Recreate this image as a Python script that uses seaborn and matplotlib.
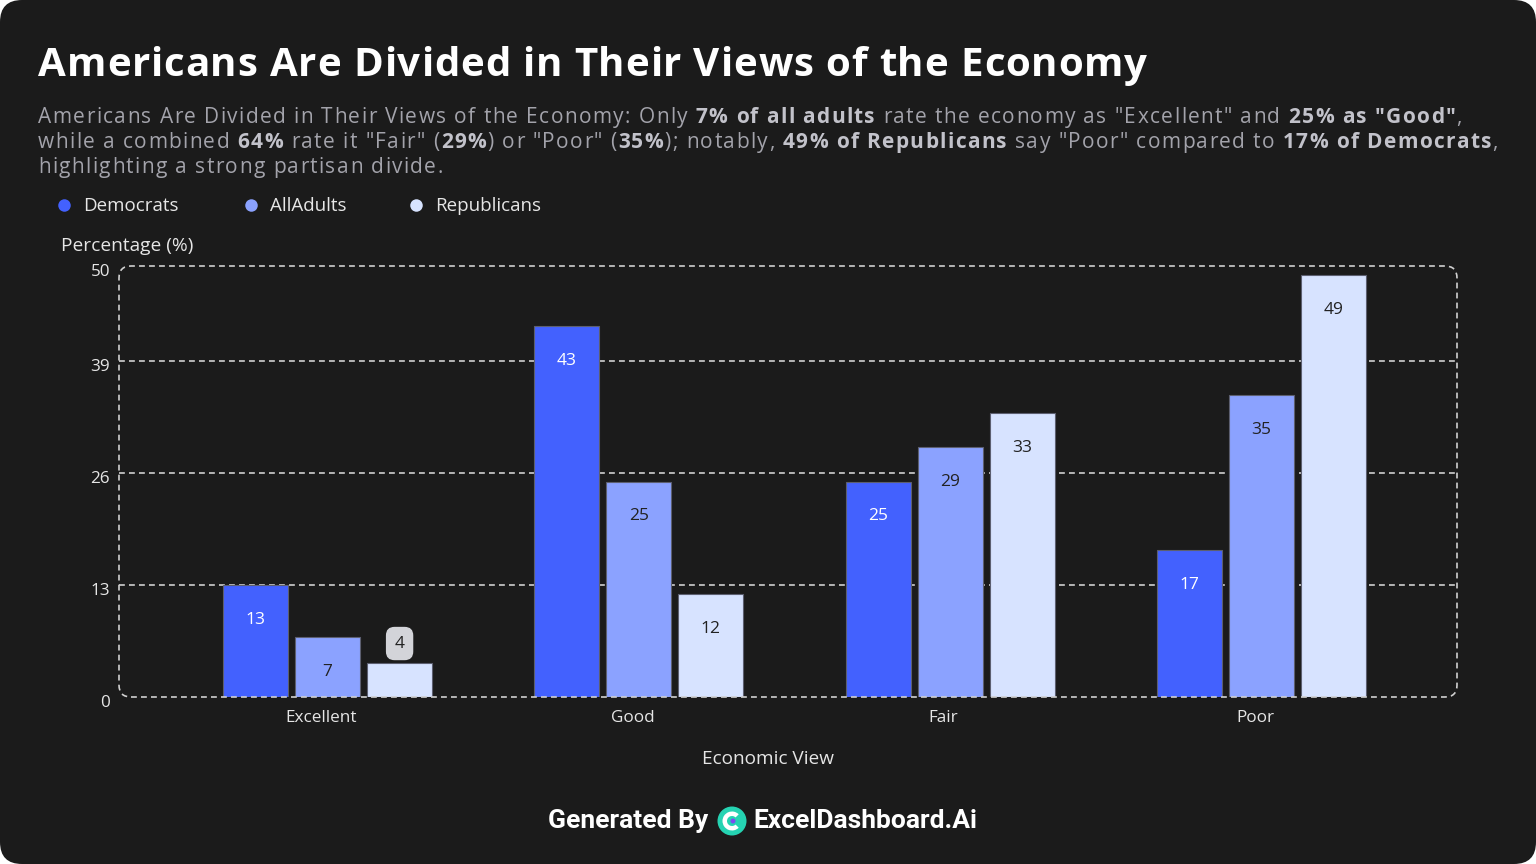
import numpy as np
import pandas as pd
import matplotlib
matplotlib.use("Agg")
import matplotlib.pyplot as plt
import matplotlib.transforms as mtransforms
import seaborn as sns
from matplotlib.patches import FancyBboxPatch, Circle, Wedge
from matplotlib.lines import Line2D

# data
views = ["Excellent", "Good", "Fair", "Poor"]
groups = ["Democrats", "AllAdults", "Republicans"]
democrats = [13, 43, 25, 17]
all_adults = [7, 25, 29, 35]
republicans = [4, 12, 33, 49]
y_ticks = [0, 13, 26, 39, 50]

title = "Americans Are Divided in Their Views of the Economy"
sub_lines = [
    [("Americans Are Divided in Their Views of the Economy: Only ", False),
     ("7% of all adults", True),
     (" rate the economy as \"Excellent\" and ", False),
     ("25% as \"Good\"", True), (",", False)],
    [("while a combined ", False), ("64%", True),
     (" rate it \"Fair\" (", False), ("29%", True),
     (") or \"Poor\" (", False), ("35%", True), ("); notably, ", False),
     ("49% of Republicans", True), (" say \"Poor\" compared to ", False),
     ("17% of Democrats", True), (",", False)],
    [("highlighting a strong partisan divide.", False)],
]

colors = ["#4361fe", "#8ba2ff", "#d7e3ff"]
label_colors = ["#ffffff", "#222222", "#222222"]
BG = "#1b1b1b"
LIGHT = "#e6e6e6"
W, H = 1536, 864

sns.set_theme(style="dark")
plt.rcParams["font.family"] = ["Open Sans", "DejaVu Sans"]

fig = plt.figure(figsize=(W / 100, H / 100), dpi=100, facecolor="white")
renderer = fig.canvas.get_renderer()

# dark card with rounded corners
card = FancyBboxPatch((0, 0), W / 100, H / 100,
                      boxstyle="round,pad=0,rounding_size=0.22",
                      transform=fig.dpi_scale_trans, facecolor=BG,
                      edgecolor="none", zorder=-10)
fig.add_artist(card)

ax = fig.add_axes([119 / W, (H - 697) / H, 1338 / W, 431 / H])
ax.set_facecolor("none")
for s in ax.spines.values():
    s.set_visible(False)

df = pd.DataFrame({
    "view": views * 3,
    "group": np.repeat(groups, len(views)),
    "pct": democrats + all_adults + republicans,
})
sns.barplot(data=df, x="view", y="pct", hue="group", order=views,
            hue_order=groups, palette=colors, saturation=1, width=0.694,
            gap=0.1, edgecolor="#5c5f70", linewidth=0.8, errorbar=None,
            legend=False, ax=ax, zorder=2)

ax.set_ylim(0, 50)
ax.set_yticks(y_ticks)
ax.set_xlim(-0.670, 3.628)
ax.set_xticks(np.arange(len(views)) - 0.021, views)
ax.set_xlabel("")
ax.set_ylabel("")
ax.tick_params(axis="both", length=0, labelsize=12.3, labelcolor=LIGHT)
ax.tick_params(axis="y", pad=6.5)
ax.tick_params(axis="x", pad=9.5)
down = mtransforms.ScaledTranslation(0, -4 / 100, fig.dpi_scale_trans)
for lab in ax.get_yticklabels():
    lab.set_transform(lab.get_transform() + down)

for t in y_ticks[1:-1]:
    ax.axhline(t, color="#d0d0d0", lw=1.2, dashes=(3.5, 2.5), zorder=0.5)

# value labels
for cont, vals, lc in zip(ax.containers, [democrats, all_adults, republicans],
                          label_colors):
    for bar, v in zip(cont, vals):
        x = bar.get_x() + bar.get_width() / 2
        if v < 5:
            ax.annotate(str(v), (x, v), xytext=(0, 19),
                        textcoords="offset pixels", ha="center", va="center",
                        fontsize=12.5, color="#222222", zorder=6,
                        bbox=dict(boxstyle="round,pad=0.5,rounding_size=0.5",
                                  fc="#d3d4d9", ec="none"))
        else:
            ax.annotate(str(v), (x, v), xytext=(0, -35),
                        textcoords="offset pixels", ha="center", va="center",
                        fontsize=12.5, color=lc, zorder=6)

# dashed rounded frame around plot area
frame = FancyBboxPatch((1.19, (H - 697) / 100), 13.38, 4.31,
                       boxstyle="round,pad=0,rounding_size=0.12",
                       transform=fig.dpi_scale_trans, fill=False,
                       edgecolor="#d0d0d0", lw=1.2,
                       linestyle=(0, (3.5, 2.5)), zorder=5)
fig.add_artist(frame)

_widths = {}


def char_width(ch, **kw):
    key = (ch, kw.get("fontsize"), kw.get("fontweight"))
    if key not in _widths:
        t1 = fig.text(0, 0, "|" + ch + "|", **kw)
        t2 = fig.text(0, 0, "||", **kw)
        _widths[key] = t1.get_window_extent(renderer).width - \
            t2.get_window_extent(renderer).width
        t1.remove()
        t2.remove()
    return _widths[key]


def tracked_text(x, y, s, tracking, **kw):
    # draws text one char at a time so letter spacing can be widened
    for ch in s:
        if ch != " ":
            fig.text(x / W, 1 - y / H, ch, ha="left", va="center", **kw)
        x += char_width(ch, **kw) + tracking
    return x


# title and subtitle
tracked_text(38, 66, title, 0.85, fontsize=29, fontweight="bold",
             color="white")

for i, line in enumerate(sub_lines):
    x = 38
    for piece, bold in line:
        x = tracked_text(x, 117.5 + 25 * i, piece, 1.4, fontsize=15,
                         color="#c2c2ca" if bold else "#a3a3ab",
                         fontweight="bold" if bold else "normal")

# legend
for g, c, mx in zip(groups, colors, [64, 251, 416]):
    fig.add_artist(Line2D([mx / W], [1 - 205 / H], marker="o", markersize=9,
                          markerfacecolor=c, markeredgecolor="none",
                          linestyle="none", transform=fig.transFigure))
    fig.text((mx + 19) / W, 1 - 206 / H, g, fontsize=13.5, color=LIGHT,
             ha="left", va="center")

fig.text(61 / W, 1 - 246 / H, "Percentage (%)", fontsize=13.8, color=LIGHT,
         ha="left", va="center")
fig.text(768 / W, 1 - 759 / H, "Economic View", fontsize=13.7, color=LIGHT,
         ha="center", va="center")

# footer
foot = dict(fontsize=19, fontweight="bold", color="white", va="center",
            family=["Roboto", "DejaVu Sans"])
fig.text(708 / W, 1 - 821 / H, "Generated By", ha="right", **foot)
fig.text(753 / W, 1 - 821 / H, "ExcelDashboard.Ai", ha="left", **foot)
cx, cy = 7.32, (H - 821) / 100
fig.add_artist(Circle((cx, cy), 0.145, transform=fig.dpi_scale_trans,
                      facecolor="#25d3b2", edgecolor="none"))
fig.add_artist(Wedge((cx, cy), 0.095, 45, 315, width=0.045,
                     transform=fig.dpi_scale_trans, facecolor="white",
                     edgecolor="none"))
fig.add_artist(Circle((cx + 0.01, cy), 0.025, transform=fig.dpi_scale_trans,
                      facecolor="#7b4cf0", edgecolor="none"))

fig.savefig("out.png", dpi=100, facecolor=fig.get_facecolor())
